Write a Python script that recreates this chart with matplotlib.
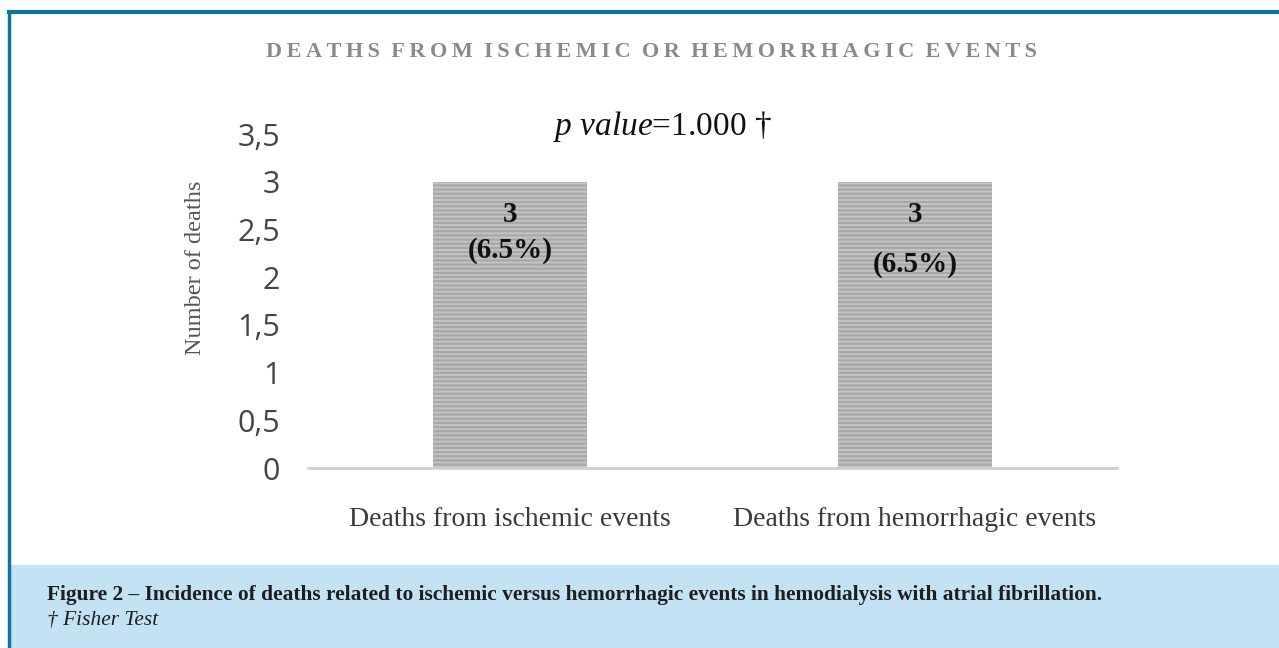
import numpy as np
import matplotlib.pyplot as plt
from matplotlib.patches import Rectangle

categories = ['Deaths from ischemic events', 'Deaths from hemorrhagic events']
deaths = [3, 3]
percent = [6.5, 6.5]
ytick_vals = [0, 0.5, 1, 1.5, 2, 2.5, 3, 3.5]
ytick_labels = ['0', '0,5', '1', '1,5', '2', '2,5', '3', '3,5']
title = 'DEATHS FROM ISCHEMIC OR HEMORRHAGIC EVENTS'

plt.rcParams['mathtext.fontset'] = 'custom'
plt.rcParams['mathtext.it'] = 'Liberation Serif:italic'
plt.rcParams['mathtext.rm'] = 'Liberation Serif'
plt.rcParams['hatch.linewidth'] = 1.6

blue = '#0f75a0'
serif = 'Liberation Serif'

fig = plt.figure(figsize=(12.79, 6.48), dpi=100)

# frame lines and caption box
fig.patches.append(Rectangle((9/1279, 0), 1 - 9/1279, 83/648, transform=fig.transFigure,
                             facecolor='#c3e2f3', edgecolor='none', zorder=0))
fig.add_artist(plt.Line2D([8.5/1279, 1], [1 - 11.5/648, 1 - 11.5/648], transform=fig.transFigure,
                          color=blue, lw=3))
fig.add_artist(plt.Line2D([8.5/1279, 8.5/1279], [0, 1 - 11.5/648], transform=fig.transFigure,
                          color=blue, lw=2.5))

ax = fig.add_axes([308/1279, 1 - 468/648, 809/1279, (468 - 134)/648])
x = np.arange(len(categories))
ax.bar(x, deaths, width=0.38, color='#c4c4c4', edgecolor='#a8a8a8', linewidth=0,
       hatch='----', zorder=2)
ax.set_xlim(-0.5, 1.5)
ax.set_ylim(0, 3.5)
ax.set_yticks(ytick_vals)
ax.set_yticklabels(ytick_labels, fontsize=22, color='#454545', fontfamily='Open Sans')
ax.set_xticks(x)
ax.set_xticklabels(categories, fontsize=20, color='#3a3a3a', fontfamily=serif)
ax.tick_params(length=0)
ax.tick_params(axis='y', pad=20)
ax.tick_params(axis='x', pad=28)
for s in ['top', 'right', 'left']:
    ax.spines[s].set_visible(False)
ax.spines['bottom'].set_color('#cfcfcf')
ax.spines['bottom'].set_linewidth(2)
ax.set_ylabel('Number of deaths', fontsize=17.5, color='#555555', fontfamily=serif)
ax.yaxis.set_label_coords(-0.126, 0.6)

count_y = [2.66, 2.66]
pct_y = [2.28, 2.13]
for xi, d, p, cy, py in zip(x, deaths, percent, count_y, pct_y):
    ax.text(xi, cy, str(d), ha='center', va='center', fontsize=21, fontweight='bold',
            fontfamily=serif, color='#111111')
    ax.text(xi, py, '(%.1f%%)' % p, ha='center', va='center', fontsize=21,
            fontweight='bold', fontfamily=serif, color='#111111')

spaced = '  '.join('\u2009'.join(w) for w in title.split())
fig.text(651/1279, 1 - 52/648, spaced, ha='center', va='center', fontsize=16, fontweight='bold',
         fontfamily=serif, color='#8a8a8a')
fig.text(662/1279, 1 - 127/648, r'$\mathit{p\ value}$=1.000 †', ha='center', va='center',
         fontsize=24, fontfamily=serif, color='#111111')

fig.text(47/1279, 1 - 595/648,
         'Figure 2 – Incidence of deaths related to ischemic versus hemorrhagic events in hemodialysis with atrial fibrillation.',
         ha='left', va='center', fontsize=15.4, fontweight='bold', fontfamily=serif, color='#1e1e1e')
fig.text(47/1279, 1 - 620/648, '† Fisher Test', ha='left', va='center', fontsize=15.4,
         fontstyle='italic', fontfamily=serif, color='#1e1e1e')

fig.savefig('out.png', dpi=100)
